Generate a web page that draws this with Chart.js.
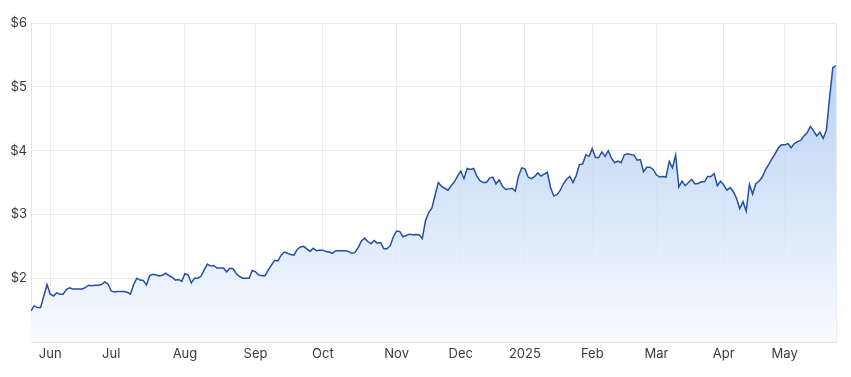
<!DOCTYPE html>
<html>
<head>
<meta charset="utf-8">
<script src="https://cdn.jsdelivr.net/npm/chart.js@4.4.1/dist/chart.umd.min.js"></script>
<style>
  html, body { margin: 0; padding: 0; background: #ffffff; }
  #wrap { width: 851px; height: 377px; position: relative; }
</style>
</head>
<body>
<div id="wrap"><canvas id="c"></canvas></div>
<script>
// Daily closing prices (trading days, late May 2024 → late May 2025)
const prices = [
  1.49, 1.565, 1.54, 1.54, 1.72, 1.90, 1.75, 1.72, 1.77, 1.75,
  1.75, 1.82, 1.85, 1.83, 1.83, 1.83, 1.83, 1.855, 1.89, 1.88,
  1.89, 1.89, 1.90, 1.94, 1.91, 1.80, 1.785, 1.79, 1.79, 1.79,
  1.78, 1.75, 1.90, 2.00, 1.97, 1.965, 1.895, 2.04, 2.06, 2.05,
  2.035, 2.045, 2.08, 2.04, 2.015, 1.97, 1.98, 1.95, 2.07, 2.05,
  1.925, 2.00, 2.00, 2.03, 2.13, 2.22, 2.19, 2.20, 2.16, 2.16,
  2.16, 2.10, 2.155, 2.15, 2.07, 2.03, 2.00, 2.00, 2.00, 2.12,
  2.10, 2.05, 2.04, 2.04, 2.13, 2.21, 2.28, 2.27, 2.36, 2.41,
  2.39, 2.37, 2.36, 2.45, 2.49, 2.50, 2.46, 2.42, 2.47, 2.43,
  2.44, 2.44, 2.42, 2.41, 2.39, 2.43, 2.43, 2.43, 2.43, 2.42,
  2.39, 2.40, 2.48, 2.58, 2.63, 2.575, 2.54, 2.59, 2.55, 2.56,
  2.46, 2.46, 2.51, 2.65, 2.74, 2.73, 2.65, 2.67, 2.69, 2.68,
  2.685, 2.68, 2.62, 2.90, 3.03, 3.10, 3.30, 3.50, 3.44, 3.41,
  3.38, 3.45, 3.51, 3.60, 3.68, 3.56, 3.72, 3.705, 3.72, 3.60,
  3.53, 3.50, 3.50, 3.57, 3.585, 3.48, 3.54, 3.44, 3.39, 3.40,
  3.41, 3.365, 3.60, 3.73, 3.715, 3.585, 3.56, 3.59, 3.65, 3.60,
  3.63, 3.66, 3.42, 3.29, 3.31, 3.375, 3.48, 3.55, 3.595, 3.50,
  3.61, 3.78, 3.79, 3.935, 3.91, 4.03, 3.89, 3.89, 3.98, 3.91,
  4.00, 3.88, 3.81, 3.835, 3.81, 3.935, 3.95, 3.94, 3.93, 3.85,
  3.86, 3.67, 3.74, 3.74, 3.705, 3.62, 3.585, 3.595, 3.585, 3.83,
  3.73, 3.93, 3.43, 3.52, 3.45, 3.50, 3.55, 3.48, 3.485, 3.51,
  3.51, 3.595, 3.595, 3.64, 3.45, 3.52, 3.46, 3.38, 3.42, 3.355,
  3.25, 3.09, 3.20, 3.05, 3.47, 3.32, 3.48, 3.52, 3.585, 3.70,
  3.78, 3.87, 3.95, 4.04, 4.09, 4.09, 4.11, 4.045, 4.11, 4.14,
  4.16, 4.23, 4.28, 4.38, 4.31, 4.23, 4.29, 4.19, 4.32, 4.83,
  5.30, 5.33
];

// Month tick labels and the trading-day index where each month starts
const monthLabels = ["Jun", "Jul", "Aug", "Sep", "Oct", "Nov", "Dec", "2025", "Feb", "Mar", "Apr", "May"];
const monthStartIndex = [6, 25, 48, 70, 91, 114, 134, 154, 175, 195, 216, 235];

// Y axis ticks (dollars)
const yTicks = [1, 2, 3, 4, 5, 6];

const points = prices.map((p, i) => ({ x: i, y: p }));
const lastIndex = prices.length - 1;

const FONT = { family: "Inter, 'Liberation Sans', Arial, sans-serif", size: 13 };
const TEXT = '#3a3a3a';
const GRID = '#ebebeb';

new Chart(document.getElementById('c'), {
  type: 'line',
  data: {
    datasets: [{
      data: points,
      borderColor: '#2350a5',
      borderWidth: 1.5,
      pointRadius: 0,
      pointHoverRadius: 0,
      tension: 0,
      fill: 'start',
      backgroundColor: (ctx) => {
        const ca = ctx.chart.chartArea;
        if (!ca) return 'rgba(180,205,243,0.5)';
        const g = ctx.chart.ctx.createLinearGradient(0, ca.top, 0, ca.bottom);
        g.addColorStop(0, 'rgba(160,194,240,0.85)');
        g.addColorStop(0.45, 'rgba(196,217,245,0.8)');
        g.addColorStop(1, 'rgba(250,252,255,0.9)');
        return g;
      }
    }]
  },
  options: {
    responsive: true,
    maintainAspectRatio: false,
    animation: false,
    layout: { padding: { top: 23, right: 15, left: 0, bottom: 0 } },
    plugins: { legend: { display: false }, tooltip: { enabled: false } },
    scales: {
      x: {
        type: 'linear',
        min: 0,
        max: lastIndex,
        afterBuildTicks: (axis) => {
          axis.ticks = monthStartIndex.map(v => ({ value: v })).concat([{ value: lastIndex }]);
        },
        afterFit: (scale) => { scale.height = 35; },
        ticks: {
          autoSkip: false,
          maxRotation: 0,
          padding: 4,
          color: TEXT,
          font: FONT,
          callback: (value) => {
            const k = monthStartIndex.indexOf(value);
            return k >= 0 ? monthLabels[k] : '';
          }
        },
        grid: { color: GRID, drawTicks: false },
        border: { color: '#e3e3e3' }
      },
      y: {
        min: yTicks[0],
        max: yTicks[yTicks.length - 1],
        afterBuildTicks: (axis) => { axis.ticks = yTicks.map(v => ({ value: v })); },
        afterFit: (scale) => { scale.width = 31; },
        ticks: {
          padding: 4,
          color: TEXT,
          font: FONT,
          callback: (v) => v === yTicks[0] ? '' : '$' + v
        },
        grid: { color: GRID, drawTicks: false },
        border: { color: '#e3e3e3' }
      }
    }
  }
});
</script>
</body>
</html>
